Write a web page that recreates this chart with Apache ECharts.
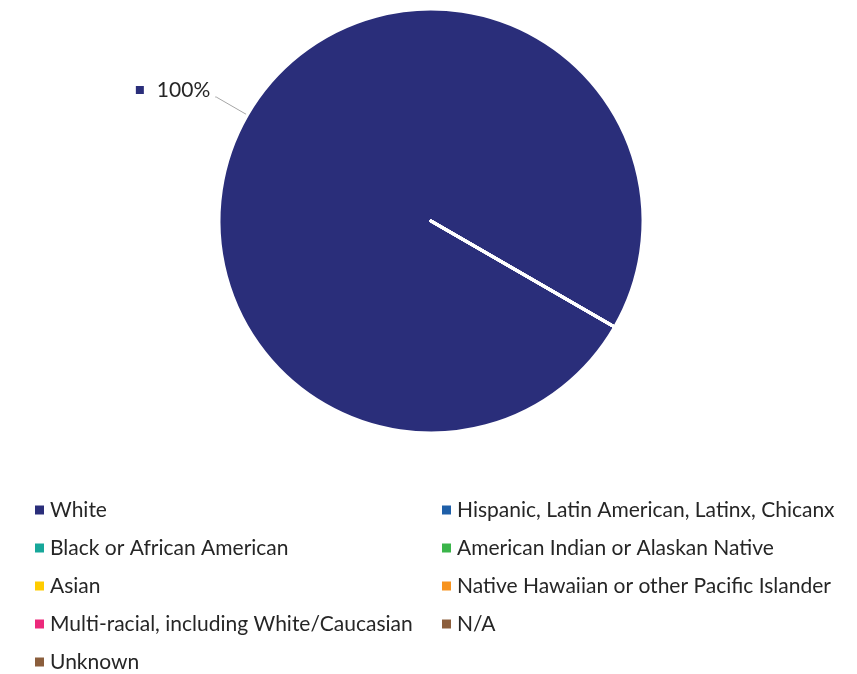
<!DOCTYPE html>
<html>
<head>
<meta charset="utf-8">
<script src="https://cdn.jsdelivr.net/npm/echarts@6/dist/echarts.min.js"></script>
<style>html,body{margin:0;padding:0;background:#fff;}#c{width:857px;height:674px;}</style>
</head>
<body>
<div id="c"></div>
<script>
const categories = ['White','Hispanic, Latin American, Latinx, Chicanx','Black or African American','American Indian or Alaskan Native','Asian','Native Hawaiian or other Pacific Islander','Multi-racial, including White/Caucasian','N/A','Unknown'];
const values = [100,0,0,0,0,0,0,0,0];
const colors = ['#2a2e7a','#1f5fa8','#17a79a','#3ab54a','#ffcc00','#f7931e','#ec297b','#8c5e3c','#8b5e3c'];
const legendCol1 = ['White','Black or African American','Asian','Multi-racial, including White/Caucasian','Unknown'];
const legendCol2 = ['Hispanic, Latin American, Latinx, Chicanx','American Indian or Alaskan Native','Native Hawaiian or other Pacific Islander','N/A'];

const total = values.reduce((a,b)=>a+b,0);
const chart = echarts.init(document.getElementById('c'), null, {renderer:'canvas'});
const legendBase = {
  orient:'vertical', icon:'rect', itemWidth:11, itemHeight:11, itemGap:16, height:400,
  selectedMode:false,
  textStyle:{fontFamily:'Lato', fontSize:21, color:'#262626', lineHeight:22}
};
chart.setOption({
  animation:false,
  color: colors,
  legend:[
    Object.assign({}, legendBase, {left:28, top:494, data:legendCol1}),
    Object.assign({}, legendBase, {left:435, top:494, data:legendCol2})
  ],
  series:[{
    type:'pie',
    center:[431,221],
    radius:[0,212],
    startAngle:-30,
    clockwise:true,
    stillShowZeroSum:true,
    minAngle:0,
    avoidLabelOverlap:false,
    itemStyle:{borderColor:'#ffffff', borderWidth:3},
    emphasis:{disabled:true},
    labelLine:{length:36, length2:1, lineStyle:{color:'#a6a6a6', width:1}, smooth:false},
    label:{
      show:true,
      position:'outside',
      fontFamily:'Lato',
      fontSize:21,
      color:'#262626',
      padding:[0,0,14,0],
      formatter:function(p){ return '{sq|}{t|' + Math.round(p.value/total*100) + '%}'; },
      rich:{
        sq:{width:8,height:8,backgroundColor:'#2a2e7a'},
        t:{fontFamily:'Lato',fontSize:21,color:'#262626',padding:[0,0,0,13]}
      }
    },
    data: categories.map((n,i)=>({
      name:n, value:values[i],
      label:{show: values[i] > 0},
      labelLine:{show: values[i] > 0}
    }))
  }]
});
</script>
</body>
</html>
